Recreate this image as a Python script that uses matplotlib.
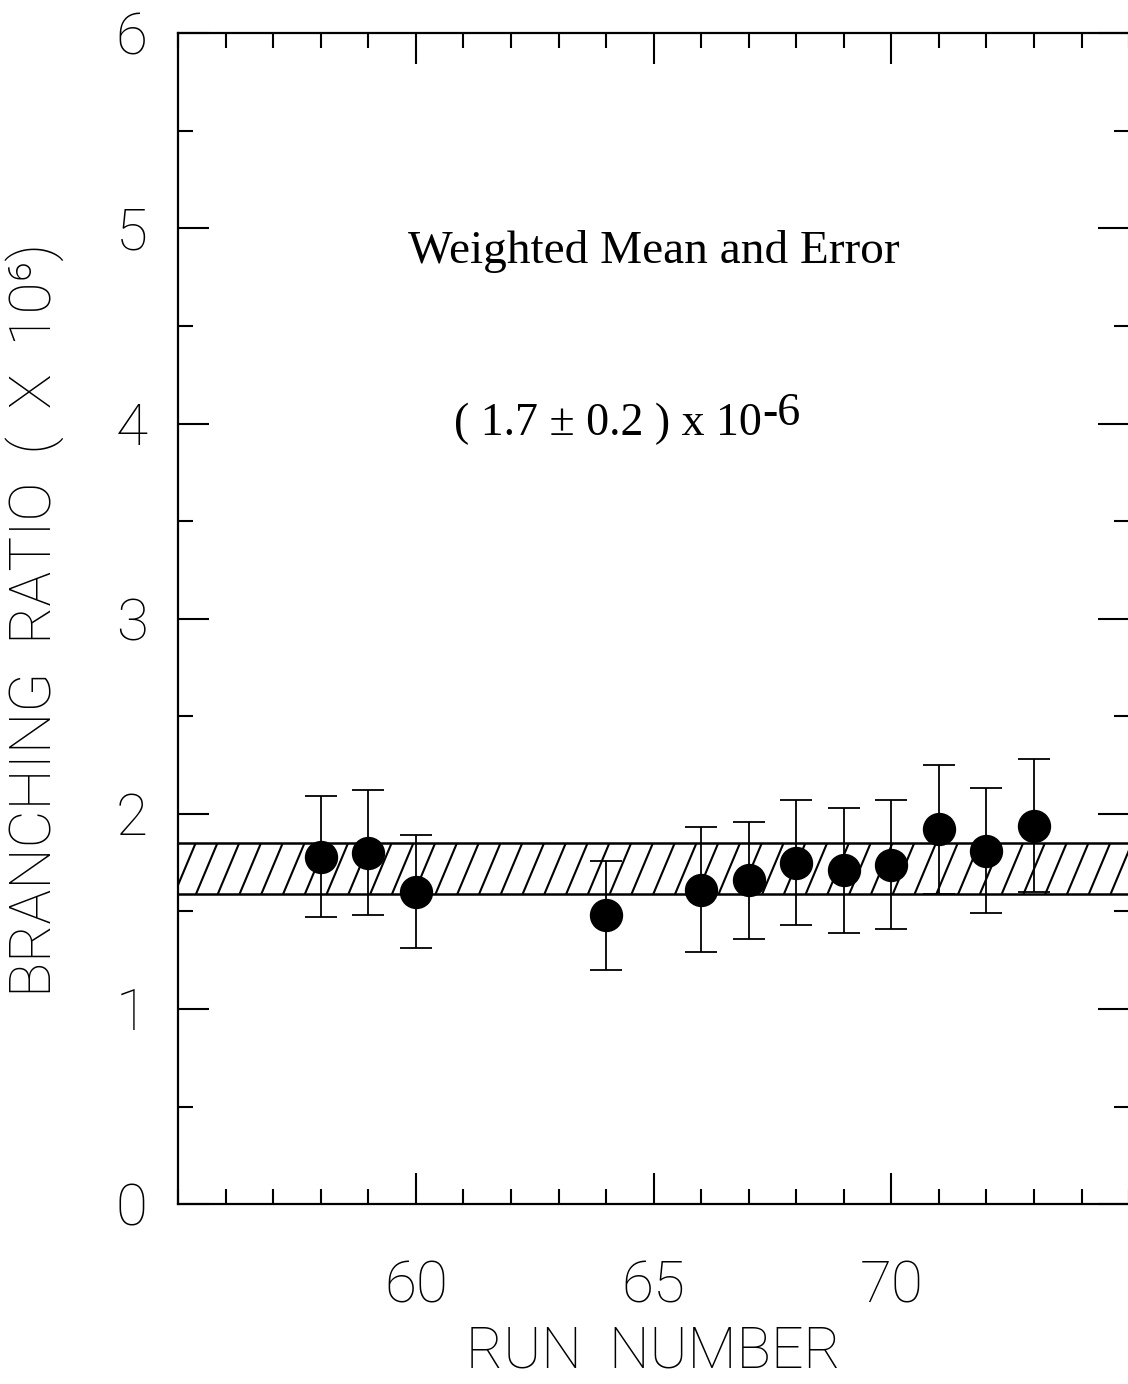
import numpy as np
import matplotlib
matplotlib.use("Agg")
import matplotlib.pyplot as plt
from matplotlib.patches import Rectangle
from matplotlib.collections import LineCollection
from matplotlib.ticker import MultipleLocator

# Branching ratio per run (units of 1e-6)
runs = [58, 59, 60, 64, 66, 67, 68, 69, 70, 71, 72, 73]
ratio = [1.78, 1.80, 1.60, 1.48, 1.61, 1.66, 1.75, 1.71, 1.74, 1.92, 1.81, 1.94]
ratio_err = [0.31, 0.32, 0.29, 0.28, 0.32, 0.30, 0.32, 0.32, 0.33, 0.33, 0.32, 0.34]

# Weighted mean band
band_mean = 1.72
band_err = 0.13

x_ticks = [60, 65, 70]
y_ticks = [0, 1, 2, 3, 4, 5, 6]

sans = ["Roboto", "DejaVu Sans"]
serif = ["Liberation Serif", "DejaVu Serif"]

fig = plt.figure(figsize=(11.28, 13.84), dpi=100)
ax = fig.add_axes([0.158, 0.130, 0.843, 0.846])
ax.set_xlim(55, 75)
ax.set_ylim(0, 6)

# hatched band for the weighted mean and its error
lo, hi = band_mean - band_err, band_mean + band_err
band = Rectangle((55, lo), 20, hi - lo, facecolor="white", edgecolor="none", zorder=1)
ax.add_patch(band)
slope = 0.58
spacing = 0.458
starts = np.arange(53.0, 76.0, spacing)
segs = [[(s, lo - 0.05), (s + (hi - lo + 0.1) / slope, hi + 0.05)] for s in starts]
lc = LineCollection(segs, colors="black", linewidths=1.5, zorder=1.5)
ax.add_collection(lc)
lc.set_clip_path(band)
ax.axhline(lo, color="black", lw=1.8, zorder=2)
ax.axhline(hi, color="black", lw=1.8, zorder=2)

ax.errorbar(runs, ratio, yerr=ratio_err, fmt="o", color="black", ms=23,
            elinewidth=1.3, capsize=11.5, capthick=1.3, zorder=3)

# axes styling
for sp in ax.spines.values():
    sp.set_linewidth(1.6)
ax.set_xticks(x_ticks)
ax.xaxis.set_minor_locator(MultipleLocator(1))
ax.set_yticks(y_ticks)
ax.yaxis.set_minor_locator(MultipleLocator(0.5))
ax.tick_params(which="both", direction="in", top=True, right=True, width=1.5)
ax.tick_params(which="major", length=22)
ax.tick_params(which="minor", length=11)
ax.tick_params(axis="x", which="major", pad=40)
ax.tick_params(axis="y", which="major", pad=22)
for lab in ax.get_xticklabels() + ax.get_yticklabels():
    lab.set_family(sans)
    lab.set_fontsize(42)
    lab.set_fontweight("light")

ax.set_xlabel("RUN  NUMBER", family=sans, fontsize=41, fontweight="light", labelpad=7)
ax.set_ylabel("BRANCHING  RATIO  (  X  10\u2076)", family=sans, fontsize=42,
              fontweight="light")
ax.yaxis.set_label_coords(-0.12, 0.4987)

ax.text(0.50, 0.8036, "Weighted Mean and Error", transform=ax.transAxes,
        family=serif, fontsize=34, ha="center", va="baseline")
t1 = ax.text(0.29, 0.657, "( 1.7 \u00b1 0.2 ) x 10", transform=ax.transAxes,
             family=serif, fontsize=33, ha="left", va="baseline")
ax.annotate("-6", xy=(1, 0), xycoords=t1, xytext=(0, 7), textcoords="offset points",
            family=serif, fontsize=33, ha="left", va="bottom")

fig.savefig("out.png", dpi=100)
